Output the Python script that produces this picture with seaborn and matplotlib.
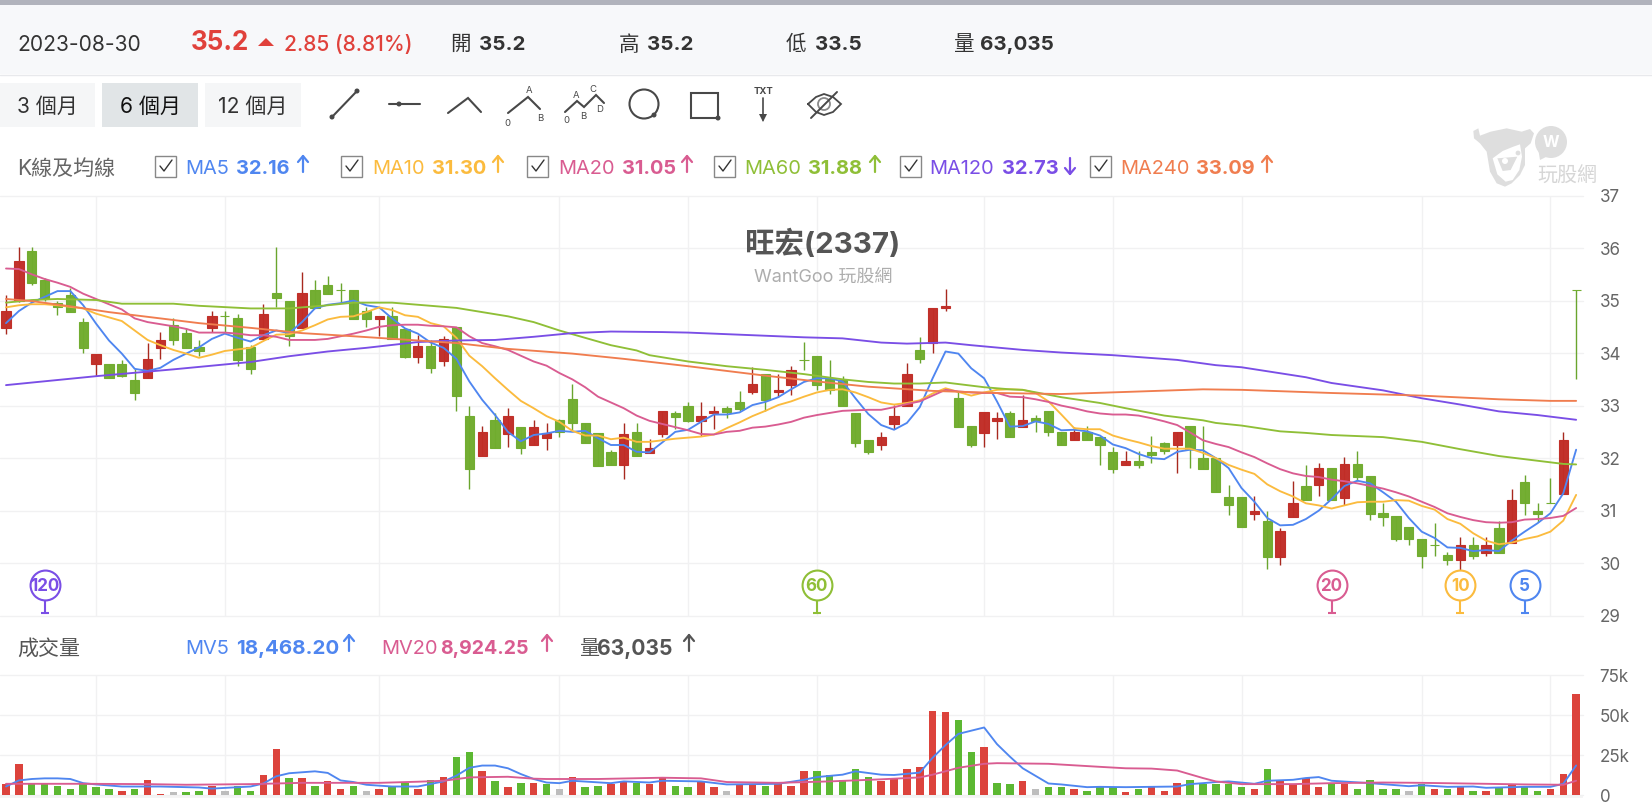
"""旺宏(2337) K-line chart redrawn from a WantGoo screenshot."""
import matplotlib

matplotlib.use("Agg")
import matplotlib.pyplot as plt
from matplotlib.patches import Circle, Ellipse, Polygon, Rectangle
import numpy as np
import pandas as pd
import seaborn as sns

# candles, left to right
opens = [34.48, 34.99, 35.95, 35.40, 34.96, 35.11, 34.60, 33.79, 33.80, 33.80,
         33.48, 33.52, 34.10, 34.53, 34.39, 34.11, 34.47, 34.71, 34.66, 34.11,
         34.27, 35.14, 35.00, 34.48, 35.20, 35.29, 35.20, 35.20, 34.80, 34.64,
         34.71, 34.46, 33.93, 34.13, 33.85, 34.50, 32.80, 32.04, 32.72, 32.45,
         32.60, 32.25, 32.39, 32.72, 33.12, 32.66, 32.48, 32.11, 31.87, 32.49,
         32.09, 32.45, 32.86, 33.00, 32.71, 32.85, 32.95, 33.06, 33.25, 33.61,
         33.25, 33.39, 33.87, 33.95, 33.50, 33.49, 32.86, 32.35, 32.25, 32.65,
         33.00, 34.06, 34.20, 34.85, 33.15, 32.61, 32.48, 32.70, 32.86, 32.60,
         32.76, 32.90, 32.50, 32.34, 32.50, 32.41, 32.12, 31.86, 31.95, 32.12,
         32.29, 32.25, 32.61, 32.01, 32.00, 31.26, 31.26, 30.93, 30.81, 30.11,
         30.88, 31.47, 31.49, 31.81, 31.25, 31.89, 31.66, 30.95, 30.89, 30.69,
         30.46, 30.35, 30.15, 30.06, 30.34, 30.20, 30.67, 30.39, 31.55, 31.00,
         31.15, 31.31, 35.20]
closes = [34.80, 35.75, 35.33, 35.04, 34.87, 34.78, 34.10, 33.99, 33.52, 33.57,
          33.24, 33.88, 34.25, 34.24, 34.10, 34.04, 34.71, 34.71, 33.87, 33.69,
          34.74, 35.05, 34.33, 35.14, 34.85, 35.13, 35.20, 34.64, 34.64, 34.71,
          34.27, 33.92, 34.13, 33.71, 34.27, 33.19, 31.79, 32.49, 32.19, 32.81,
          32.19, 32.60, 32.47, 32.49, 32.66, 32.28, 31.85, 31.87, 32.46, 32.04,
          32.20, 32.89, 32.79, 32.71, 32.81, 32.89, 32.88, 32.94, 33.41, 33.11,
          33.29, 33.67, 33.86, 33.40, 33.30, 33.00, 32.28, 32.11, 32.41, 32.81,
          33.61, 33.89, 34.86, 34.90, 32.60, 32.25, 32.87, 32.76, 32.40, 32.72,
          32.70, 32.49, 32.25, 32.49, 32.34, 32.25, 31.80, 31.95, 31.86, 32.06,
          32.14, 32.49, 32.18, 31.80, 31.35, 31.11, 30.69, 31.00, 30.11, 30.61,
          31.15, 31.20, 31.81, 31.20, 31.89, 31.65, 30.94, 30.88, 30.46, 30.46,
          30.14, 30.35, 30.06, 30.34, 30.14, 30.34, 30.20, 31.21, 31.14, 30.94,
          31.15, 32.35, 35.20]
highs = [35.11, 36.01, 36.01, 35.42, 35.00, 35.23, 34.66, 33.99, 33.80, 33.86,
         33.70, 34.20, 34.40, 34.66, 34.48, 34.25, 34.80, 34.80, 34.75, 34.15,
         34.94, 36.01, 35.00, 35.55, 35.40, 35.46, 35.34, 35.20, 34.87, 34.71,
         34.88, 34.46, 34.35, 34.25, 34.32, 34.50, 33.00, 32.61, 32.85, 32.95,
         32.60, 32.73, 32.66, 32.75, 33.41, 32.66, 32.48, 32.15, 32.66, 32.66,
         32.36, 32.89, 32.90, 33.07, 33.07, 33.00, 33.00, 33.27, 33.73, 33.61,
         33.61, 33.76, 34.22, 33.95, 33.87, 33.56, 32.86, 32.35, 32.50, 33.02,
         33.81, 34.30, 34.86, 35.22, 33.27, 32.61, 32.87, 32.87, 32.90, 33.21,
         32.82, 32.90, 32.50, 32.60, 32.62, 32.41, 32.22, 32.13, 32.13, 32.42,
         32.30, 32.49, 32.61, 32.61, 32.00, 31.49, 31.26, 31.27, 31.00, 30.67,
         31.56, 31.87, 31.90, 31.81, 32.02, 32.13, 31.66, 31.15, 30.89, 30.69,
         30.46, 30.76, 30.21, 30.50, 30.50, 30.50, 30.81, 31.41, 31.67, 31.15,
         31.62, 32.50, 35.20]
lows = [34.36, 34.97, 35.29, 35.00, 34.72, 34.78, 34.00, 33.57, 33.52, 33.54,
        33.11, 33.52, 33.89, 34.15, 34.10, 33.94, 34.40, 34.40, 33.75, 33.60,
        34.27, 34.87, 34.13, 34.48, 34.85, 35.13, 34.96, 34.64, 34.50, 34.32,
        34.27, 33.90, 33.82, 33.62, 33.76, 32.90, 31.41, 32.04, 32.19, 32.22,
        32.07, 32.25, 32.15, 32.41, 32.54, 32.28, 31.85, 31.87, 31.61, 32.04,
        32.09, 32.41, 32.55, 32.68, 32.43, 32.55, 32.76, 32.90, 33.22, 32.90,
        33.16, 33.21, 33.67, 33.30, 33.22, 33.00, 32.22, 32.08, 32.16, 32.55,
        33.00, 33.82, 34.01, 34.81, 32.60, 32.22, 32.22, 32.36, 32.40, 32.60,
        32.50, 32.43, 32.25, 32.34, 32.34, 31.87, 31.71, 31.86, 31.82, 31.90,
        32.08, 31.71, 31.82, 31.80, 31.35, 30.91, 30.69, 30.83, 29.89, 29.96,
        30.88, 31.20, 31.27, 31.20, 31.10, 31.56, 30.83, 30.71, 30.43, 30.34,
        29.90, 30.14, 29.97, 29.87, 30.08, 30.14, 30.20, 30.39, 30.91, 30.79,
        31.15, 31.31, 33.50]

ma5 = [34.57, 34.80, 34.96, 35.07, 35.18, 35.18, 34.91, 34.56, 34.24, 33.99,
       33.70, 33.66, 33.72, 33.87, 33.99, 34.11, 34.27, 34.37, 34.29, 34.22,
       34.34, 34.43, 34.38, 34.59, 34.85, 34.92, 34.95, 35.00, 34.91, 34.87,
       34.66, 34.47, 34.37, 34.20, 34.10, 33.89, 33.46, 33.11, 32.82, 32.50,
       32.32, 32.44, 32.47, 32.52, 32.50, 32.52, 32.38, 32.25, 32.25, 32.12,
       32.11, 32.30, 32.50, 32.54, 32.69, 32.83, 32.83, 32.87, 33.01, 33.07,
       33.16, 33.31, 33.45, 33.52, 33.52, 33.46, 33.14, 32.84, 32.63, 32.54,
       32.67, 32.97, 33.52, 34.03, 33.99, 33.71, 33.52, 33.08, 32.60, 32.61,
       32.70, 32.65, 32.53, 32.54, 32.51, 32.43, 32.26, 32.19, 32.08, 32.00,
       31.98, 32.12, 32.16, 32.15, 32.00, 31.81, 31.43, 31.17, 30.86, 30.72,
       30.73, 30.84, 31.00, 31.22, 31.47, 31.57, 31.52, 31.35, 31.17, 30.86,
       30.60, 30.48, 30.30, 30.29, 30.23, 30.25, 30.23, 30.43, 30.60, 30.76,
       30.95, 31.33, 32.16]
ma10 = [34.87, 34.91, 34.93, 34.93, 34.91, 34.88, 34.85, 34.75, 34.68, 34.61,
        34.43, 34.25, 34.15, 34.06, 33.99, 33.91, 33.97, 34.04, 34.07, 34.10,
        34.23, 34.35, 34.36, 34.43, 34.53, 34.64, 34.69, 34.70, 34.78, 34.87,
        34.82, 34.72, 34.69, 34.57, 34.51, 34.29, 33.95, 33.75, 33.52, 33.30,
        33.09, 32.95, 32.80, 32.69, 32.52, 32.43, 32.43, 32.36, 32.39, 32.31,
        32.31, 32.34, 32.37, 32.39, 32.41, 32.45, 32.57, 32.68, 32.80, 32.90,
        33.01, 33.08, 33.17, 33.25, 33.30, 33.31, 33.25, 33.16, 33.06, 33.02,
        33.05, 33.10, 33.23, 33.33, 33.26, 33.19, 33.25, 33.30, 33.31, 33.30,
        33.24, 33.08, 32.83, 32.57, 32.55, 32.55, 32.43, 32.36, 32.30, 32.23,
        32.18, 32.18, 32.18, 32.10, 32.00, 31.87, 31.78, 31.70, 31.50, 31.37,
        31.27, 31.14, 31.10, 31.04, 31.10, 31.16, 31.17, 31.17, 31.20, 31.19,
        31.09, 31.02, 30.84, 30.75, 30.57, 30.43, 30.36, 30.39, 30.46, 30.51,
        30.60, 30.81, 31.30]
ma20 = [35.61, 35.60, 35.50, 35.41, 35.34, 35.26, 35.13, 35.03, 34.93, 34.83,
        34.66, 34.59, 34.55, 34.51, 34.46, 34.39, 34.39, 34.39, 34.37, 34.34,
        34.34, 34.31, 34.25, 34.25, 34.25, 34.27, 34.32, 34.37, 34.43, 34.50,
        34.53, 34.54, 34.54, 34.52, 34.51, 34.49, 34.32, 34.19, 34.13, 34.06,
        33.95, 33.84, 33.76, 33.62, 33.50, 33.35, 33.17, 33.06, 32.95, 32.81,
        32.71, 32.65, 32.59, 32.53, 32.46, 32.45, 32.50, 32.52, 32.58, 32.60,
        32.64, 32.69, 32.77, 32.82, 32.86, 32.90, 32.91, 32.92, 32.92, 32.97,
        33.03, 33.08, 33.19, 33.30, 33.27, 33.25, 33.24, 33.24, 33.17, 33.16,
        33.12, 33.07, 33.00, 32.95, 32.89, 32.85, 32.83, 32.83, 32.81, 32.76,
        32.70, 32.63, 32.49, 32.34, 32.27, 32.21, 32.11, 32.02, 31.90, 31.79,
        31.71, 31.66, 31.64, 31.59, 31.56, 31.52, 31.47, 31.42, 31.35, 31.27,
        31.17, 31.07, 30.95, 30.88, 30.82, 30.78, 30.77, 30.78, 30.83, 30.84,
        30.86, 30.90, 31.05]
ma60_x = [0, 2, 4, 7, 9, 13, 15, 19, 22, 25, 27, 30, 33, 35, 37, 39, 41, 43, 45,
          47, 49, 50, 53, 56, 59, 62, 65, 67, 69, 71, 73, 76, 78, 79, 82, 85,
          87, 90, 93, 94, 96, 99, 101, 103, 107, 110, 113, 116, 119, 121, 122]
ma60 = [34.96, 35.01, 35.03, 35.01, 34.94, 34.94, 34.90, 34.85, 34.85, 34.91,
        34.96, 34.96, 34.90, 34.86, 34.78, 34.70, 34.59, 34.43, 34.29, 34.15,
        34.05, 33.96, 33.84, 33.75, 33.68, 33.60, 33.50, 33.45, 33.42, 33.42,
        33.44, 33.35, 33.31, 33.30, 33.16, 33.05, 32.95, 32.81, 32.72, 32.67,
        32.62, 32.51, 32.48, 32.44, 32.40, 32.31, 32.17, 32.04, 31.95, 31.89,
        31.88]
ma120_x = [0, 7, 13, 19, 22, 25, 28, 32, 35, 38, 41, 44, 47, 51, 53, 57, 62, 65,
           68, 70, 73, 75, 79, 82, 86, 91, 94, 96, 101, 103, 107, 110, 113, 116,
           119, 121, 122]
ma120 = [33.39, 33.56, 33.69, 33.83, 33.94, 34.03, 34.10, 34.21, 34.24, 34.25,
         34.31, 34.38, 34.41, 34.40, 34.39, 34.35, 34.30, 34.28, 34.20, 34.18,
         34.20, 34.15, 34.06, 34.01, 33.96, 33.87, 33.77, 33.73, 33.54, 33.43,
         33.29, 33.14, 33.02, 32.89, 32.82, 32.76, 32.73]
ma240_x = [0, 2, 5, 8, 11, 15, 19, 23, 27, 32, 35, 39, 44, 48, 53, 59, 63, 67,
           72, 77, 82, 87, 93, 96, 103, 110, 116, 120, 122]
ma240 = [35.03, 34.99, 34.89, 34.78, 34.69, 34.57, 34.48, 34.38, 34.32, 34.24,
         34.19, 34.08, 33.99, 33.89, 33.75, 33.57, 33.46, 33.36, 33.28, 33.24,
         33.22, 33.26, 33.31, 33.30, 33.24, 33.19, 33.12, 33.09, 33.09]

volumes = [6800, 19100, 7400, 7400, 5700, 3800, 6800, 4700, 3800, 2800,
           3800, 9500, 900, 1900, 1900, 2800, 5900, 2800, 5900, 2800,
           12500, 28600, 10600, 10600, 5700, 8500, 3800, 5700, 2800, 3800,
           4900, 7400, 3800, 9500, 11400, 24000, 26700, 15300, 8500, 4900,
           7600, 7600, 6600, 3800, 11400, 4900, 5700, 6800, 8500, 7600,
           6800, 10600, 5700, 4900, 8500, 4900, 2800, 6600, 6600, 5700,
           6800, 5700, 15300, 15300, 12300, 9500, 16300, 11400, 8500, 10600,
           16300, 17200, 52600, 51700, 46900, 26700, 29700, 7600, 6800, 8700,
           3800, 4900, 4900, 3800, 2800, 4900, 4900, 1900, 3800, 4900,
           2800, 7600, 9500, 6800, 6800, 6800, 4900, 3800, 16300, 8500,
           6800, 10600, 4900, 7600, 6800, 3800, 9500, 3800, 3800, 2800,
           6800, 3800, 3800, 4900, 2800, 2800, 4900, 6600, 5700, 2800,
           3800, 13400, 63035]
vol_dir = list("rrgggggggr" "grrnggrngg" "rrgrgrrgnr" "ggrgrggrgr" "grgnrggrrg"
               "rrggrrnrrg" "rrrgggggrr" "rrrrggrggr" "nggrgggrgr" "rrgggggrgr"
               "rrrgrggggn" "grgrgrgrgg" "rrr")
mv5_x = [0, 1, 2, 3, 4, 5, 6, 7, 9, 12, 15, 16, 19, 20, 21, 22, 23, 24, 25, 26,
         27, 28, 30, 32, 34, 35, 36, 37, 38, 39, 40, 41, 42, 43, 44, 47, 48, 50,
         51, 54, 56, 60, 62, 63, 65, 66, 68, 69, 71, 72, 73, 74, 76, 77, 78, 79,
         81, 82, 84, 85, 87, 89, 91, 92, 93, 94, 95, 97, 98, 100, 101, 102, 103,
         106, 109, 110, 112, 114, 115, 118, 120, 121, 122]
mv5 = [5300, 9100, 10000, 10400, 10400, 10000, 7400, 6600, 5300, 5300, 4700,
       4000, 5300, 7200, 11700, 13600, 14200, 14800, 13800, 9100, 8100, 6400,
       5300, 5300, 8500, 12100, 17000, 18400, 18400, 16700, 13100, 10000, 7800,
       7400, 8900, 7400, 8500, 7800, 8900, 8500, 6600, 7000, 9500, 11200, 12700,
       14800, 12700, 12500, 14000, 23300, 31200, 38200, 42200, 31800, 24000,
       16700, 7200, 6600, 4900, 5100, 4900, 5100, 5300, 6800, 7400, 8100, 8500,
       7000, 8900, 9500, 10600, 11200, 8900, 7400, 5500, 6100, 5100, 5300, 4500,
       5100, 5100, 7000, 18468]
mv20_x = [0, 6, 11, 14, 19, 23, 29, 32, 34, 36, 39, 41, 42, 46, 51, 54, 56, 60,
          64, 68, 71, 72, 74, 76, 77, 81, 85, 87, 89, 91, 93, 94, 96, 100, 103,
          107, 110, 115, 118, 121, 122]
mv20 = [7000, 7000, 6800, 6400, 6800, 7600, 7600, 8300, 8900, 11000, 11400,
        10200, 10000, 10000, 10800, 10400, 8100, 7600, 8500, 9800, 11000, 12700,
        17000, 19500, 19900, 19500, 17600, 16700, 16500, 15300, 10600, 8500,
        6800, 6800, 7400, 7800, 7600, 7000, 6600, 6400, 8924]

# MA badges sitting above the x axis: period, candle index
badge_labels = ["120", "60", "20", "10", "5"]
badge_pos = [3, 63, 103, 113, 118]
grid_pos = [7, 17, 29, 43, 53, 63, 76, 86, 96, 110, 120]

price_ticks = [29, 30, 31, 32, 33, 34, 35, 36, 37]
vol_ticks = [0, 25000, 50000, 75000]
vol_tick_labels = ["0", "25k", "50k", "75k"]

legend_text = [("MA5", "32.16", "↑"), ("MA10", "31.30", "↑"), ("MA20", "31.05", "↑"),
               ("MA60", "31.88", "↑"), ("MA120", "32.73", "↓"), ("MA240", "33.09", "↑")]

BLUE, YELLOW, PINK = "#4f86f0", "#fbbb3e", "#d95c91"
LIME, PURPLE, ORANGE = "#8fbf37", "#7a4ee6", "#f07d4f"
C_UP, C_DOWN = "#c12e27", "#71ad2f"
WICK_UP, WICK_DOWN = "#a8291f", "#6aa52e"
GRID = "#f1f1f2"
W, H = 1652, 808

sns.set_theme(style="white")
plt.rcParams["font.family"] = ["Inter", "Noto Sans CJK TC", "DejaVu Sans"]

fig = plt.figure(figsize=(W / 100, H / 100), dpi=100)
fig.patch.set_facecolor("white")


def px_axes(left, top, right, bottom):
    return fig.add_axes([left / W, 1 - bottom / H, (right - left) / W, (bottom - top) / H])


def fs(px):
    return px * 0.72


# ---- price panel
ax = px_axes(0, 195.5, 1583, 615.7)
idx = np.arange(len(opens))
df = pd.DataFrame({"i": idx, "o": opens, "c": closes, "h": highs, "l": lows})
df["up"] = df["c"] > df["o"]
body_col = np.where(df["up"], C_UP, C_DOWN)
wick_col = np.where(df["up"], WICK_UP, WICK_DOWN)
ax.vlines(df["i"], df["l"], df["h"], colors=wick_col, lw=1.0, zorder=2)
ax.bar(df["i"], (df["c"] - df["o"]).abs(), bottom=df[["o", "c"]].min(axis=1), width=0.72,
       color=body_col, edgecolor=body_col, lw=0.8, zorder=3, alpha=0.98)

lines = [(idx, ma5, BLUE), (idx, ma10, YELLOW), (idx, ma20, PINK),
         (ma60_x, ma60, LIME), (ma120_x, ma120, PURPLE), (ma240_x, ma240, ORANGE)]
for xs, ys, col in lines:
    sns.lineplot(x=list(xs), y=ys, color=col, lw=1.35, estimator=None, errorbar=None, ax=ax, zorder=4)

for lab, pos, col in zip(badge_labels, badge_pos, [PURPLE, LIME, PINK, YELLOW, BLUE]):
    ax.plot([pos, pos], [29.05, 29.3], color=col, lw=1.5, zorder=5)
    ax.plot([pos], [29.05], marker="_", ms=5.5, mew=1.5, color=col, zorder=5)
    ax.plot([pos], [29.58], marker="o", ms=21.5, mfc="white", mec=col, mew=1.5, zorder=6)
    ax.text(pos, 29.56, lab, color=col, ha="center", va="center", fontsize=fs(17),
            fontweight="bold", zorder=7)

ax.set_ylim(29, 37)
ax.set_yticks(price_ticks)

# ---- volume panel
ax_v = px_axes(0, 675, 1583, 795)
vol_df = pd.DataFrame({"i": idx, "vol": volumes, "dir": vol_dir})
sns.barplot(data=vol_df, x="i", y="vol", hue="dir", dodge=False, native_scale=True, width=0.58,
            palette={"r": "#dc433c", "g": "#5cb832", "n": "#bdbdbd"}, saturation=1, legend=False,
            linewidth=0, ax=ax_v, zorder=3)
sns.lineplot(x=mv5_x, y=mv5, color=BLUE, lw=1.35, estimator=None, errorbar=None, ax=ax_v, zorder=4)
sns.lineplot(x=mv20_x, y=mv20, color=PINK, lw=1.35, estimator=None, errorbar=None, ax=ax_v, zorder=4)
ax_v.set_ylim(0, 75000)
ax_v.set_yticks(vol_ticks)
ax_v.set_yticklabels(vol_tick_labels)

for a in (ax, ax_v):
    a.set_xlim(-6 / 12.87, 1577 / 12.87)
    a.set_xticks([])
    a.set_xlabel("")
    a.set_ylabel("")
    a.yaxis.tick_right()
    a.tick_params(axis="y", length=0, pad=12, labelsize=fs(17), labelcolor="#666666")
    a.set_facecolor("none")
    for s in a.spines.values():
        s.set_visible(False)
    for p in grid_pos:
        a.axvline(p, color=GRID, lw=1.0, zorder=0)
    for t in a.get_yticks():
        a.axhline(t, color=GRID, lw=1.0, zorder=0, clip_on=False)

# ---- page furniture in pixel coordinates
ui = fig.add_axes([0, 0, 1, 1], zorder=-1)
ui.set_xlim(0, W)
ui.set_ylim(H, 0)
ui.axis("off")
top = fig.add_axes([0, 0, 1, 1], zorder=5)
top.set_xlim(0, W)
top.set_ylim(H, 0)
top.axis("off")
top.patch.set_alpha(0)

ui.add_patch(Rectangle((0, 0), W, 5, color="#b1b3bc", lw=0))
ui.add_patch(Rectangle((0, 5), W, 69, color="#f7f8fa", lw=0))
ui.plot([0, W], [74.5, 74.5], color="#e8e9ec", lw=1)
ui.add_patch(Rectangle((0, 795), 1583, 3, color="#f5f5f5", lw=0))


def label(x, y, s, px, col="#333333", weight="normal", ha="left", **kw):
    top.text(x, y + px * 0.13, s, fontsize=fs(px), color=col, fontweight=weight, ha=ha, va="center", **kw)


RED = "#e0413b"
label(17, 42, "2023-08-30", 21, "#333333")
label(191, 40, "35.2", 26, RED, "bold")
top.add_patch(Polygon([(258, 46), (266, 38), (274, 46)], color=RED, lw=0))
label(284, 42, "2.85 (8.81%)", 21, RED, "medium")
for xa, xb, a, b in [(450, 479, "開", "35.2"), (619, 647, "高", "35.2"),
                     (786, 815, "低", "33.5"), (954, 980, "量", "63,035")]:
    label(xa, 42, a, 20.5, "#333333")
    label(xb, 42, b, 20.5, "#333333", "bold")

for x0, x1, col, s in [(-4, 95, "#f5f6f7", "3 個月"), (102, 198, "#e1e5e7", "6 個月"),
                       (205, 301, "#f5f6f7", "12 個月")]:
    ui.add_patch(Rectangle((x0, 83), x1 - x0, 44, facecolor=col, edgecolor="none"))
    label((max(x0, 0) + x1) / 2, 104, s, 21, "#111111" if s[0] == "6" else "#333333", ha="center")

ICON = "#484848"


def poly(xs, ys, lw=1.5, col=ICON):
    top.plot(xs, ys, color=col, lw=lw, solid_capstyle="round", solid_joinstyle="miter")


def dot(x, y, r=2.5, col=ICON):
    top.add_patch(Circle((x, y), r, color=col, lw=0))


poly([332, 357], [117, 91])
dot(332, 117), dot(357, 91)
poly([389, 420], [104, 104])
dot(399, 104)
poly([448, 468, 481], [113, 98, 112])
poly([508, 528, 540], [113, 97, 109])
for x, y, s in [(529, 89, "A"), (507, 122, "0"), (540, 117, "B"), (576, 94, "A"), (593, 88, "C"),
                (583, 115, "B"), (600, 108, "D"), (566, 119, "0")]:
    label(x, y, s, 9.5, ICON, ha="center")
poly([565, 577, 584, 596, 604], [112, 101, 107, 95, 103])
top.add_patch(Ellipse((644, 104), 29, 29, fc="none", ec=ICON, lw=1.5))
dot(654, 115)
top.add_patch(Rectangle((691, 93), 27, 25, fc="none", ec=ICON, lw=1.5))
dot(718, 118)
label(763, 90, "TXT", 9.5, ICON, "bold", ha="center")
poly([763, 763], [98, 120], lw=1.2)
top.add_patch(Polygon([(759, 114), (767, 114), (763, 122)], color=ICON, lw=0))
# crossed-out eye
poly([808, 816, 824, 833, 841, 833, 824, 816, 808], [104, 97, 94, 97, 104, 112, 115, 112, 104], lw=1.3)
top.add_patch(Circle((824, 104), 6, fc="none", ec="#8a8a8a", lw=1.3))
poly([811, 837], [118, 92], lw=1.4)

label(17, 166, "K線及均線", 21, "#666666")
legend_cols = [BLUE, YELLOW, PINK, LIME, PURPLE, ORANGE]
box_x = [155, 341, 527, 714, 900, 1090]
name_x = [185, 372, 558, 744, 929, 1120]
val_x = [236, 432, 622, 808, 1002, 1196]
arrow_x = [303, 498, 687, 875, 1070, 1267]


def arrow(x, y, col, up=True):
    tip, tail = (y - 9, y + 7) if up else (y + 9, y - 7)
    head = tip + 6 if up else tip - 6
    top.plot([x, x], [tail, tip], color=col, lw=1.6)
    top.plot([x - 5, x, x + 5], [head, tip, head], color=col, lw=1.6)


for (n, v, d), col, bx, nx, vx, a_x in zip(legend_text, legend_cols, box_x, name_x, val_x, arrow_x):
    top.add_patch(Rectangle((bx, 155.5), 21, 21, fc="white", ec="#888888", lw=1))
    top.plot([bx + 5, bx + 9, bx + 17], [166, 171, 160], color="#333333", lw=1)
    label(nx, 166, n, 20, col)
    label(vx, 166, v, 20, col, "bold")
    arrow(a_x, 165, col, d == "↑")

# volume readout row
label(17, 646, "成交量", 21, "#555555")
label(185, 646, "MV5", 20, BLUE)
label(236, 646, "18,468.20", 20.5, BLUE, "bold")
arrow(349, 644, BLUE)
label(381, 646, "MV20", 20, PINK)
label(440, 646, "8,924.25", 19.5, PINK, "bold")
arrow(547, 644, PINK)
label(579, 646, "量", 20, "#555555")
label(597, 646, "63,035", 21, "#555555", "bold")
arrow(689, 644, "#555555")

# chart title
label(823, 241, "旺宏(2337)", 29.5, "#555555", "bold", ha="center")
label(823, 275, "WantGoo 玩股網", 18, "#adadad", ha="center")

# watermark: cow head and speech bubble
MARK = "#dedede"
cow = [(40, 48), (55, 40), (60, 62), (92, 50), (140, 40), (185, 50), (210, 42), (222, 55), (212, 85),
       (195, 100), (195, 150), (180, 180), (155, 205), (135, 215), (110, 205), (90, 170), (80, 110),
       (60, 85), (42, 70)]
face = [(98, 130), (128, 108), (160, 95), (180, 88), (186, 125), (178, 165), (158, 195), (137, 200),
        (112, 178)]
snout = [(112, 130), (172, 125), (152, 165), (128, 168)]
to_px = lambda pts: [(1460 + p / 3, 115 + q / 3) for p, q in pts]
top.add_patch(Polygon(to_px(cow), color=MARK, lw=0))
top.add_patch(Polygon(to_px(face), color="white", lw=0))
top.add_patch(Polygon(to_px(snout), color=MARK, lw=0))
top.add_patch(Circle((1505, 161), 3, color="white", lw=0))
top.add_patch(Circle((1518, 153), 2.4, color=MARK, lw=0))
top.add_patch(Circle((1551, 142), 16, color=MARK, lw=0))
top.add_patch(Polygon([(1538, 148), (1540, 160), (1548, 156)], color=MARK, lw=0))
label(1551, 140, "W", 16, "white", "bold", ha="center")
label(1567, 174, "玩股網", 20, "#d6d6d6", ha="center")

fig.savefig("out.png", dpi=100)
